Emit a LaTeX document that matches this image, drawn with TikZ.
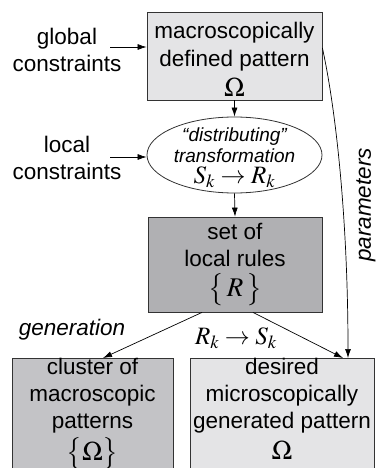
\documentclass[tikz,border=0pt]{standalone}
\usepackage{fontspec}
\usepackage{mathptmx}
\setmainfont{Liberation Sans}
\usetikzlibrary{arrows.meta,shapes.geometric}

\definecolor{lightbox}{HTML}{E4E4E6}
\definecolor{midbox}{HTML}{C3C3C6}
\definecolor{darkbox}{HTML}{B0B0B3}

\newcommand{\bigsym}[1]{{\fontsize{27}{27}\selectfont$#1$}}

\begin{document}
\begin{tikzpicture}[x=1pt,y=-1pt,
    >={Latex[length=9pt,width=6pt]},
    every node/.style={font=\fontsize{22.5}{27}\selectfont, align=center, inner sep=0pt},
    box/.style={draw=black!80, line width=0.8pt},
    label/.style={font=\fontsize{22.5}{27}\selectfont\itshape}]
  \useasboundingbox (0,0) rectangle (377,468);

  % Pattern boxes
  \node[box, fill=lightbox, minimum width=175pt, minimum height=88pt] (macro) at (234.5,56)
    {\rule{0pt}{24pt}macroscopically\\[1pt]defined pattern\\[3pt]\bigsym{\Omega}};
  \node[box, ellipse, fill=white, minimum width=175pt, minimum height=76pt] (trans) at (234.5,155) {};
  \node[font=\fontsize{19}{21}\selectfont\itshape] (transtext) at (234.5,158)
    {``distributing''\\transformation\\{\fontsize{25}{21}\selectfont$S_k \rightarrow R_k$}};
  \node[box, fill=darkbox, minimum width=174pt, minimum height=95pt] (rules) at (235,264.5)
    {set of\\local rules\\[3pt]\bigsym{\big\{\,R\,\big\}}};
  \node[box, fill=midbox, minimum width=161pt, minimum height=130pt, anchor=north] (cluster) at (92.5,358)
    {cluster of\\macroscopic\\patterns\\[3pt]\bigsym{\big\{\Omega\big\}}\\[12pt]};
  \node[box, fill=lightbox, minimum width=184pt, minimum height=130pt, anchor=north] (micro) at (282,358)
    {desired\\microscopically\\generated pattern\\[4pt]\bigsym{\Omega}\\[12pt]};

  % Constraints
  \node (glob) at (67,50) {global\\constraints};
  \node (loc) at (67,158) {local\\constraints};
  \coordinate (globend) at (110,47);
  \coordinate (locend) at (110,157);
  \draw[->, line width=0.7pt] (globend) -- (macro.west |- globend);
  \draw[->, line width=0.7pt] (locend) -- (trans.west |- locend);

  % Main chain
  \draw[->, line width=0.7pt] (macro.south) -- (trans.north);
  \draw[->, line width=0.7pt] (trans.south) -- (rules.north);
  \draw[->, line width=0.7pt] (rules.south -| 202,0) -- (cluster.north -| 103,0);
  \draw[->, line width=0.7pt] (rules.south -| 253,0) -- (micro.north -| 343,0);
  \draw[->, line width=0.7pt] (macro.east |- 0,48) .. controls (336,110) and (348,220) .. (micro.north -| 348,0);

  % Labels
  \node[label] (gen) at (72,330) {generation};
  \node (rs) at (236,338) {\fontsize{25}{25}\selectfont$R_k \rightarrow S_k$};
  \node[label, rotate=90] (par) at (366,205) {parameters};
\end{tikzpicture}
\end{document}
